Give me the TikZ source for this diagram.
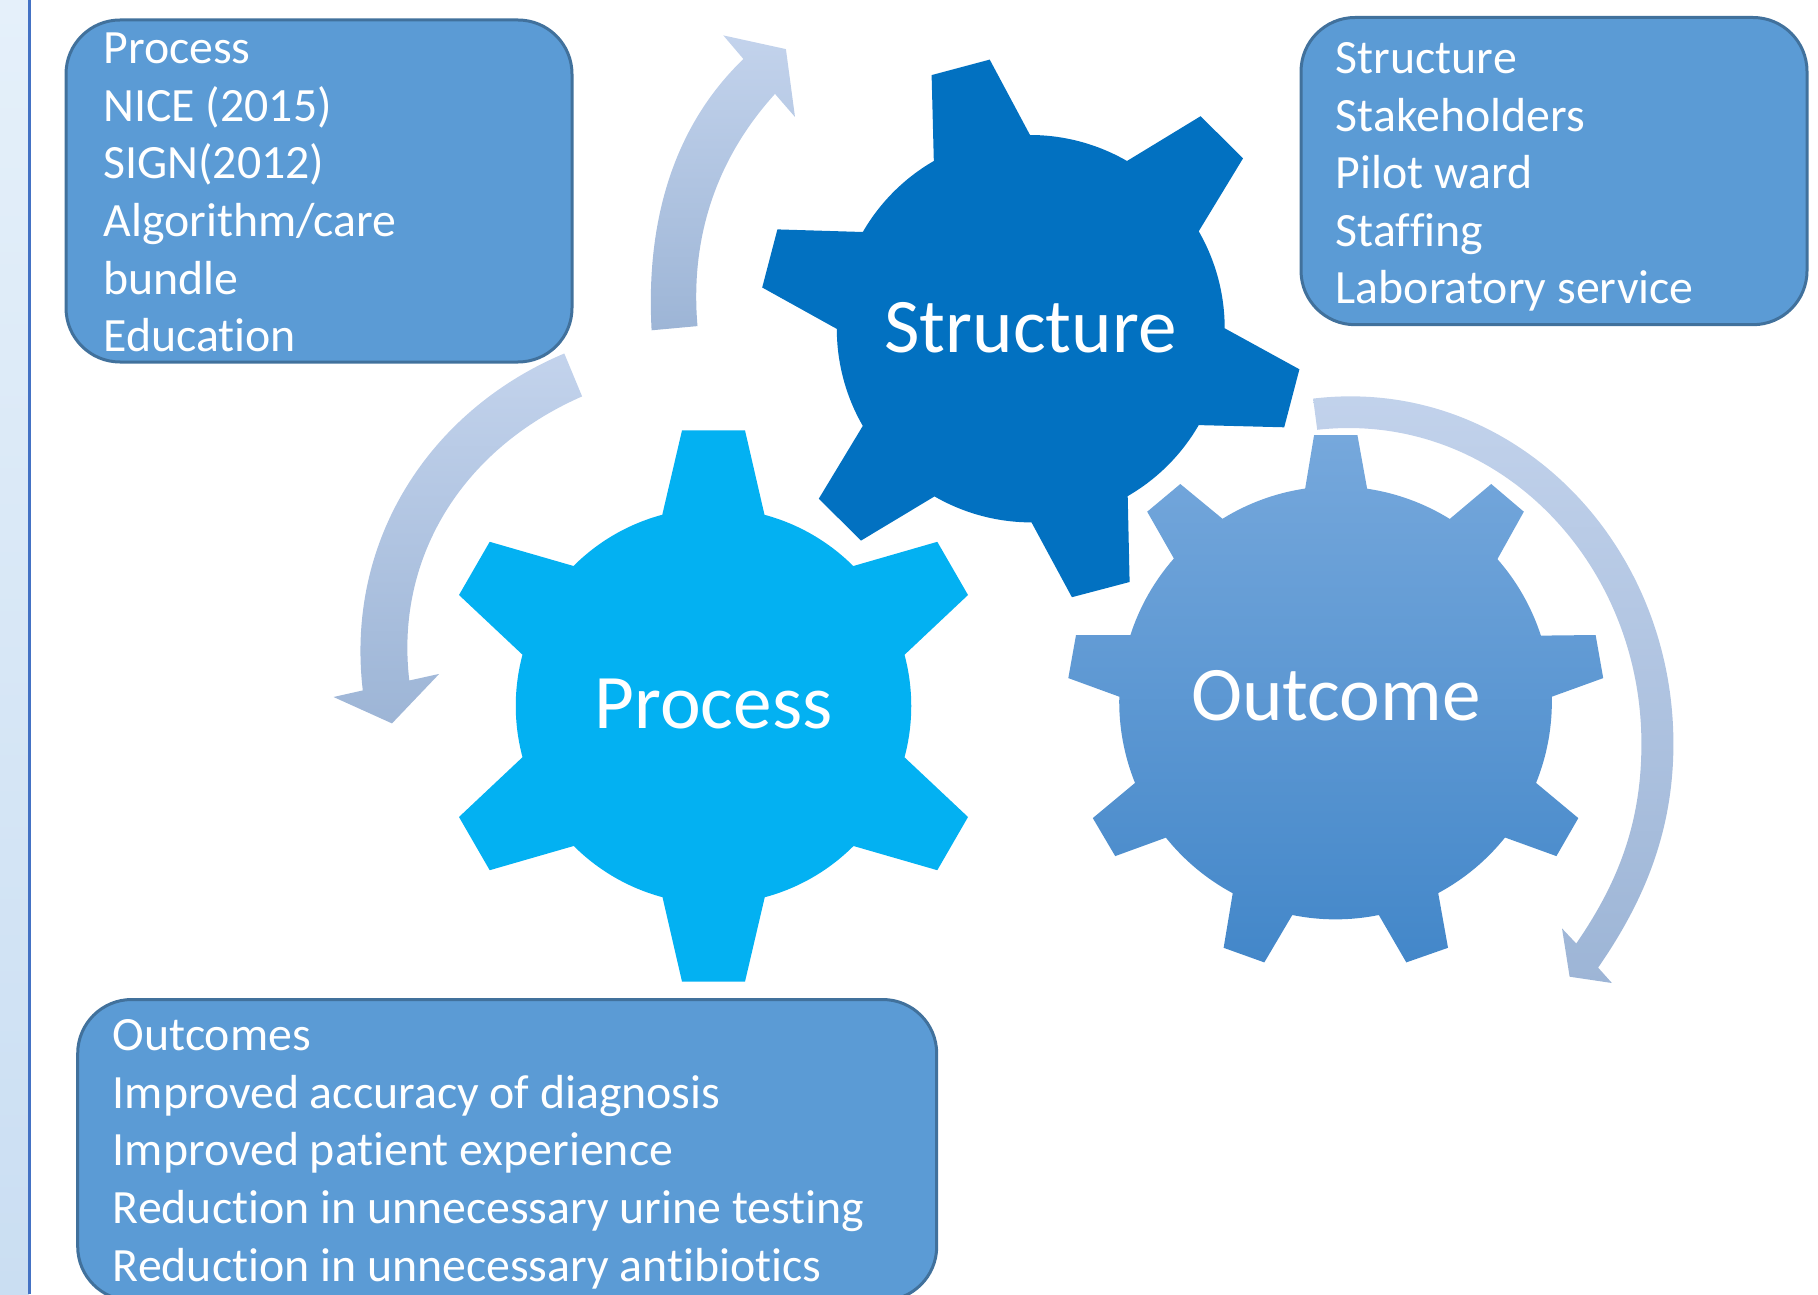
\documentclass[tikz,border=0pt]{standalone}
\usepackage{fontspec}
\setmainfont{Carlito}[Ligatures=NoCommon]
\definecolor{stripA}{HTML}{E5F0FA}
\definecolor{stripB}{HTML}{CADEF2}
\definecolor{stripline}{HTML}{4472C4}
\definecolor{boxfill}{HTML}{5B9BD5}
\definecolor{boxline}{HTML}{41719C}
\definecolor{structure}{HTML}{0271C1}
\definecolor{process}{HTML}{03B1F2}
\definecolor{outcomeA}{HTML}{76A8DC}
\definecolor{outcomeM}{HTML}{5A9ADB}
\definecolor{outcomeB}{HTML}{4387C9}
\definecolor{arrowA}{HTML}{C3D3EC}
\definecolor{arrowM}{HTML}{B3C9E7}
\definecolor{arrowB}{HTML}{9DB5D6}

\begin{document}
\begin{tikzpicture}[x=0.5pt,y=-0.5pt]
    \tikzset{%
      ibox/.style={draw=boxline, line width=1.5pt, fill=boxfill,
        rounded corners=27pt, anchor=north west, outer sep=0pt, inner sep=0pt},
      itext/.style={anchor=north west, text=white, inner sep=0pt, align=left,
        font=\fontsize{23.9}{28.8}\selectfont, execute at begin node=\strut},
      glabel/.style={anchor=base, text=white, inner sep=0pt,
        font=\fontsize{38.6}{46}\selectfont},
      barrow/.style={top color=arrowA, middle color=arrowM, bottom color=arrowB},
    }
    \useasboundingbox (0,0) rectangle (1818,1294);
% side strip
    \shade[top color=stripA, bottom color=stripB] (0,0) rectangle (29,1294);
    \draw[stripline, line width=1.5pt] (29,0) -- (29,1294);
% text boxes
    \node[ibox, minimum width=253pt, minimum height=171pt] (Pb) at (66,20) {};
    \node[itext] (Pt) at (103,32.7)
      {Process\\NICE (2015)\\SIGN(2012)\\Algorithm/care\\bundle\\Education};
    \node[ibox, minimum width=253pt, minimum height=153.6pt] (Sb) at (1301,17.5) {};
    \node[itext] (St) at (1335.5,42)
      {Structure\\Stakeholders\\Pilot ward\\Staffing\\Laboratory service};
    \node[ibox, minimum width=429.5pt, minimum height=150.5pt] (Ob) at (77.7,999.5) {};
    \node[itext] (Ot) at (112.5,1019.3)
      {Outcomes\\Improved accuracy of diagnosis\\Improved patient experience\\Reduction in unnecessary urine testing\\Reduction in unnecessary antibiotics};
% arrows
    \shade[barrow] (651.6,330.3) .. controls (645,210) and (680,120) .. (743.4,59)
      -- (723.3,35.4) -- (785.9,49.1) -- (795,117) -- (775,93.9)
      .. controls (715,160) and (690,240) .. (697.5,326.1) -- cycle;
    \shade[barrow] (564.3,353.5) .. controls (430,410) and (345,540) .. (362.8,690.4)
      -- (333.5,697) -- (392,723.4) -- (439.2,673.9) -- (409.3,680.5)
      .. controls (395,560) and (460,450) .. (582.1,396.4) -- cycle;
    \shade[barrow] (1313.1,398.6) .. controls (1510,375) and (1673.4,540) .. (1673.4,743.8)
      .. controls (1673.4,830) and (1645,900) .. (1598.1,967.6)
      -- (1611.9,983) -- (1569.6,976.7) -- (1562,928.4) -- (1576.2,943.5)
      .. controls (1620,880) and (1641.4,820) .. (1641.4,743.8)
      .. controls (1641.4,560) and (1495,410) .. (1317.2,429.8) -- cycle;
% gears
    \fill[structure] (931.6,75.1) -- (989.7,59.6) -- (1030,135)
      arc[start angle=-90, end angle=-60, radius=194]
      -- (1200.6,116.2) -- (1243,158.4) -- (1198.7,231.3)
      arc[start angle=-30, end angle=0, radius=194]
      -- (1299.4,369.3) -- (1284.2,427.3) -- (1198.7,425.1)
      arc[start angle=30, end angle=60, radius=194]
      -- (1129.6,582) -- (1071.9,597.2) -- (1031.5,522.4)
      arc[start angle=90, end angle=120, radius=194]
      -- (861,540.6) -- (818.8,498.7) -- (862.8,425.9)
      arc[start angle=150, end angle=180, radius=194]
      -- (762.2,287.5) -- (777.4,229.4) -- (862.8,232)
      arc[start angle=210, end angle=240, radius=194] -- cycle;
    \node[glabel] (S) at (1030.5,352) {Structure};

    \fill[process] (682,430.4) -- (745,430.4) -- (764.5,514.8)
      arc[start angle=-75, end angle=-45, radius=198]
      -- (937.3,541.8) -- (968,595) -- (904.5,654.8)
      arc[start angle=-15, end angle=15, radius=198]
      -- (968,817) -- (937.3,870.2) -- (853.5,846)
      arc[start angle=45, end angle=75, radius=198]
      -- (745,981.6) -- (682,981.6) -- (662.5,897.2)
      arc[start angle=105, end angle=135, radius=198]
      -- (489.7,870.2) -- (459,817) -- (522.5,757.2)
      arc[start angle=165, end angle=195, radius=198]
      -- (459,595) -- (489.7,541.8) -- (573.5,566)
      arc[start angle=225, end angle=255, radius=198] -- cycle;
    \node[glabel] (P) at (713.5,728) {Process};

    \shade[top color=outcomeA, middle color=outcomeM, bottom color=outcomeB] (1314.1,435) -- (1357.4,435) -- (1367.1,488.7)
      arc[start angle=-81.6, end angle=-58.2, radius=217]
      -- (1491.2,484) -- (1523.8,511.7) -- (1497.4,559.1)
      arc[start angle=-41.3, end angle=-17.9, radius=217]
      -- (1595.6,635) -- (1603.2,678.1) -- (1551.8,696.7)
      arc[start angle=-1.3, end angle=22, radius=217]
      -- (1578.3,818.1) -- (1556.4,856.1) -- (1505,837.5)
      arc[start angle=38.7, end angle=61.8, radius=217]
      -- (1448,947.8) -- (1406.3,962.4) -- (1378.8,915)
      arc[start angle=78.5, end angle=101.5, radius=217]
      -- (1264.3,962.4) -- (1223.6,947.8) -- (1232.7,893.2)
      arc[start angle=118.2, end angle=141.3, radius=217]
      -- (1115.2,856.1) -- (1092.8,818.1) -- (1135,782.9)
      arc[start angle=158, end angle=181.3, radius=217]
      -- (1068.3,678.1) -- (1076,635) -- (1130.4,635)
      arc[start angle=197.9, end angle=221.3, radius=217]
      -- (1147.2,511.7) -- (1180.3,484) -- (1222.5,518.8)
      arc[start angle=238.2, end angle=261.6, radius=217] -- cycle;
    \node[glabel] (O) at (1336,720) {Outcome};
\end{tikzpicture}
\end{document}
